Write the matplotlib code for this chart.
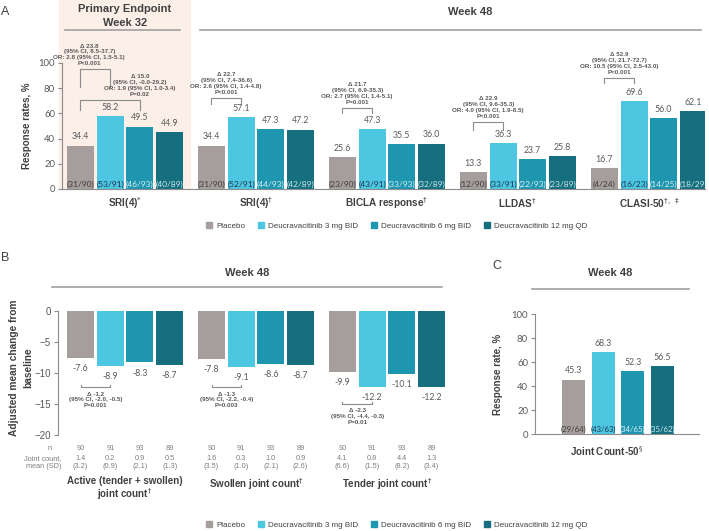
import numpy as np
import matplotlib.pyplot as plt
from matplotlib.patches import Rectangle, Patch
from matplotlib.lines import Line2D
from matplotlib.transforms import blended_transform_factory

plt.rcParams['font.family'] = ['Liberation Sans', 'DejaVu Sans']

W, H = 709, 531


def fx(p):
    return p / W


def fy(p):
    return 1 - p / H


arms = ['Placebo', 'Deucravacitinib 3 mg BID', 'Deucravacitinib 6 mg BID', 'Deucravacitinib 12 mg QD']
colors = ['#a69e9c', '#4cc6e1', '#1e96b0', '#156f7f']
count_colors = ['#3b3b3b', '#1c3550', '#d9f2f7', '#cdeaf0']

# panel A
a_endpoints = [r'SRI(4)$^{*}$', r'SRI(4)$^{\dagger}$', r'BICLA response$^{\dagger}$',
               r'LLDAS$^{\dagger}$', r'CLASI-50$^{\dagger,\ \ddagger}$']
a_rates = [[34.4, 58.2, 49.5, 44.9],
           [34.4, 57.1, 47.3, 47.2],
           [25.6, 47.3, 35.5, 36.0],
           [13.3, 36.3, 23.7, 25.8],
           [16.7, 69.6, 56.0, 62.1]]
a_counts = [['(31/90)', '(53/91)', '(46/93)', '(40/89)'],
            ['(31/90)', '(52/91)', '(44/93)', '(42/89)'],
            ['(23/90)', '(43/91)', '(33/93)', '(32/89)'],
            ['(12/90)', '(33/91)', '(22/93)', '(23/89)'],
            ['(4/24)', '(16/23)', '(14/25)', '(18/29)']]
# (group, compared arm, text, bracket top, leg bottom, text anchor)
a_stats = [
    (0, 1, 'Δ 23.8\n(95% CI, 8.5-37.7)\nOR: 2.8 (95% CI, 1.5-5.1)\nP<0.001', 95, 81, 0.3),
    (0, 2, 'Δ 15.0\n(95% CI, -0.0-29.2)\nOR: 1.9 (95% CI, 1.0-3.4)\nP=0.02', 70.6, 62.7, 1.0),
    (1, 1, 'Δ 22.7\n(95% CI, 7.4-36.6)\nOR: 2.6 (95% CI, 1.4-4.8)\nP<0.001', 72, 67.5, 0.5),
    (2, 1, 'Δ 21.7\n(95% CI, 6.9-35.3)\nOR: 2.7 (95% CI, 1.4-5.1)\nP=0.001', 64.3, 60.3, 0.5),
    (3, 1, 'Δ 22.9\n(95% CI, 9.6-35.3)\nOR: 4.0 (95% CI, 1.9-8.5)\nP<0.001', 53.2, 46.8, 0.5),
    (4, 1, 'Δ 52.9\n(95% CI, 21.7-72.7)\nOR: 10.5 (95% CI, 2.5-43.0)\nP<0.001', 88, 84, 0.5),
]

# panel B
b_groups = ['Active (tender + swollen)\n' + r'joint count$^{\dagger}$',
            r'Swollen joint count$^{\dagger}$', r'Tender joint count$^{\dagger}$']
b_change = [[-7.6, -8.9, -8.3, -8.7],
            [-7.8, -9.1, -8.6, -8.7],
            [-9.9, -12.2, -10.1, -12.2]]
b_n = [90, 91, 93, 89]
b_mean = [[1.4, 0.2, 0.9, 0.5], [1.6, 0.3, 1.0, 0.9], [4.1, 0.8, 4.4, 1.3]]
b_sd = [[3.2, 0.9, 2.1, 1.3], [3.5, 1.0, 2.1, 2.6], [6.6, 1.5, 8.2, 3.4]]
b_stats = [(0, 'Δ -1.2\n(95% CI, -2.0, -0.5)\nP=0.001', -12.3),
           (1, 'Δ -1.3\n(95% CI, -2.2, -0.4)\nP=0.003', -12.3),
           (2, 'Δ -2.3\n(95% CI, -4.4, -0.3)\nP=0.01', -15.0)]

# panel C
c_rates = [45.3, 68.3, 52.3, 56.5]
c_counts = ['(29/64)', '(43/63)', '(34/65)', '(35/62)']

dark = '#404040'
mid = '#595959'
axis_col = '#8c8c8c'
pitch = 4.41

fig = plt.figure(figsize=(7.09, 5.31), dpi=100)


def add_ax(l, t, r, b):
    return fig.add_axes([fx(l), fy(b), fx(r) - fx(l), (b - t) / H])


def style_ticks(ax, size, family):
    for lab in ax.get_yticklabels():
        lab.set_fontsize(size)
        lab.set_family(family)
        lab.set_color(mid)
    ax.tick_params(axis='y', length=3, color=axis_col, pad=2)
    ax.tick_params(axis='x', length=0)
    for s in ['top', 'right']:
        ax.spines[s].set_visible(False)
    for s in ['left', 'bottom']:
        ax.spines[s].set_color(axis_col)


# peach band behind primary endpoint
fig.add_artist(Rectangle((fx(59), fy(189)), fx(190) - fx(59), 189 / H,
                         transform=fig.transFigure, color='#fbefe8', zorder=-5))

# ---------------- A
axA = add_ax(62, 63, 705, 189)
axA.set_facecolor('none')
for g, vals in enumerate(a_rates):
    for j, v in enumerate(vals):
        x = g * pitch + j
        axA.bar(x, v, width=0.91, color=colors[j])
        axA.annotate(f'{v:.1f}', (x, v), xytext=(0, 3), textcoords='offset points',
                     ha='center', va='bottom', fontsize=6.3, family='Lato', color=mid)
        axA.annotate(a_counts[g][j], (x, 0), xytext=(0, 1), textcoords='offset points',
                     ha='center', va='bottom', fontsize=6, family='Lato', color=count_colors[j])
for g, j, txt, top, bot, anc in a_stats:
    x0 = g * pitch
    x1 = g * pitch + j
    axA.plot([x0, x0, x1, x1], [bot, top, top, bot], color='#8c8c8c', lw=0.8, clip_on=False)
    axA.text(x0 + (x1 - x0) * anc, top + 2.5, txt, ha='center', va='bottom', fontsize=4.5,
             fontweight='bold', color=mid, linespacing=1.22, clip_on=False)
axA.set_xlim(-0.62, 21.03)
axA.set_ylim(0, 100)
axA.set_yticks(range(0, 101, 20))
axA.set_xticks([])
style_ticks(axA, 6.8, 'Lato')
btA = blended_transform_factory(axA.transData, fig.transFigure)
for g, name in enumerate(a_endpoints):
    fig.text(g * pitch + 1.5, fy(203), name, transform=btA, ha='center', va='center',
             fontsize=7.2, fontweight='bold', color=dark)
fig.text(fx(27), fy(126), 'Response rates, %', rotation=90, ha='center', va='center',
         fontsize=7, fontweight='bold', color=dark)

fig.text(fx(5), fy(12), 'A', ha='center', va='center', fontsize=9, color=dark)
fig.text(fx(125), fy(9), 'Primary Endpoint', ha='center', va='center', fontsize=8,
         fontweight='bold', color=dark)
fig.text(fx(125), fy(23), 'Week 32', ha='center', va='center', fontsize=8,
         fontweight='bold', color=dark)
fig.add_artist(Line2D([fx(65), fx(180)], [fy(30), fy(30)], color='#a0a0a0', lw=1.2))
fig.text(fx(470), fy(12), 'Week 48', ha='center', va='center', fontsize=8,
         fontweight='bold', color=dark)
fig.add_artist(Line2D([fx(200), fx(701)], [fy(29.5), fy(29.5)], color='#a0a0a0', lw=1.2))

handles = [Patch(color=c, label=a) for c, a in zip(colors, arms)]
for ly in [226, 525]:
    fig.legend(handles=handles, loc='center', bbox_to_anchor=(fx(397), fy(ly)), ncol=4,
               frameon=False, fontsize=5.8, handlelength=0.75, handleheight=0.75,
               handletextpad=0.5, columnspacing=1.6, labelcolor=dark)

# ---------------- B
axB = add_ax(58, 311, 450, 435)
axB.set_facecolor('none')
for g, vals in enumerate(b_change):
    for j, v in enumerate(vals):
        x = g * pitch + j
        axB.bar(x, v, width=0.91, color=colors[j])
        axB.text(x, v - 1.7, f'{v:.1f}', ha='center', va='center', fontsize=6.3,
                 family='Lato', color=mid)
for g, txt, yb in b_stats:
    x0 = g * pitch
    x1 = g * pitch + 1
    axB.plot([x0, x0, x1, x1], [yb + 0.4, yb, yb, yb + 0.4], color='#8c8c8c', lw=0.8,
             clip_on=False)
    axB.text((x0 + x1) / 2, yb - 0.7, txt, ha='center', va='top', fontsize=4.5,
             fontweight='bold', color=mid, linespacing=1.22, clip_on=False)
axB.set_xlim(-0.76, 12.44)
axB.set_ylim(-20, 0)
axB.set_yticks(range(-20, 1, 5))
axB.set_xticks([])
style_ticks(axB, 7, 'Liberation Sans')
axB.spines['bottom'].set_visible(False)

btB = blended_transform_factory(axB.transData, fig.transFigure)
grey_txt = '#7f7f7f'
fig.text(fx(52), fy(448), 'n', ha='right', va='center', fontsize=5.3, color=grey_txt)
fig.text(fx(61), fy(462.5), 'Joint count,\nmean (SD)', ha='right', va='center', fontsize=5.3,
         color=grey_txt, linespacing=1.15)
for g in range(3):
    for j in range(4):
        x = g * pitch + j
        fig.text(x, fy(448), str(b_n[j]), transform=btB, ha='center', va='center',
                 fontsize=5.3, color=grey_txt)
        fig.text(x, fy(462.5), f'{b_mean[g][j]:.1f}\n({b_sd[g][j]:.1f})', transform=btB,
                 ha='center', va='center', fontsize=5.3, color=grey_txt, linespacing=1.15)
    fig.text(g * pitch + 1.5, fy(476), b_groups[g], transform=btB, ha='center', va='top',
             fontsize=7, fontweight='bold', color=dark, linespacing=1.05)

fig.text(fx(21), fy(368), 'Adjusted mean change from\nbaseline', rotation=90, ha='center',
         va='center', fontsize=7.3, fontweight='bold', color=dark, linespacing=1.6)
fig.text(fx(5), fy(258), 'B', ha='center', va='center', fontsize=9, color=dark)
fig.text(fx(247), fy(273), 'Week 48', ha='center', va='center', fontsize=8,
         fontweight='bold', color=dark)
fig.add_artist(Line2D([fx(52), fx(442)], [fy(287), fy(287)], color='#a0a0a0', lw=1.2))

# ---------------- C
axC = add_ax(535, 314, 699, 434)
axC.set_facecolor('none')
for j, v in enumerate(c_rates):
    axC.bar(j, v, width=0.78, color=colors[j])
    axC.annotate(f'{v:.1f}', (j, v), xytext=(0, 3), textcoords='offset points',
                 ha='center', va='bottom', fontsize=6.3, family='Lato', color=mid)
    axC.annotate(c_counts[j], (j, 0), xytext=(0, 1), textcoords='offset points',
                 ha='center', va='bottom', fontsize=5.6, family='Lato', color=count_colors[j])
axC.set_xlim(-1.296, 4.226)
axC.set_ylim(0, 100)
axC.set_yticks(range(0, 101, 20))
axC.set_xticks([])
style_ticks(axC, 6.8, 'Lato')
fig.text(fx(607), fy(451), r'Joint Count-50$^{§}$', ha='center', va='center', fontsize=7,
         fontweight='bold', color=dark)
fig.text(fx(498), fy(374), 'Response rate, %', rotation=90, ha='center', va='center',
         fontsize=7, fontweight='bold', color=dark)
fig.text(fx(497), fy(266), 'C', ha='center', va='center', fontsize=9, color=dark)
fig.text(fx(610), fy(273), 'Week 48', ha='center', va='center', fontsize=8,
         fontweight='bold', color=dark)
fig.add_artist(Line2D([fx(532), fx(689)], [fy(289), fy(289)], color='#a0a0a0', lw=1.2))

fig.savefig('out.png', dpi=100)
